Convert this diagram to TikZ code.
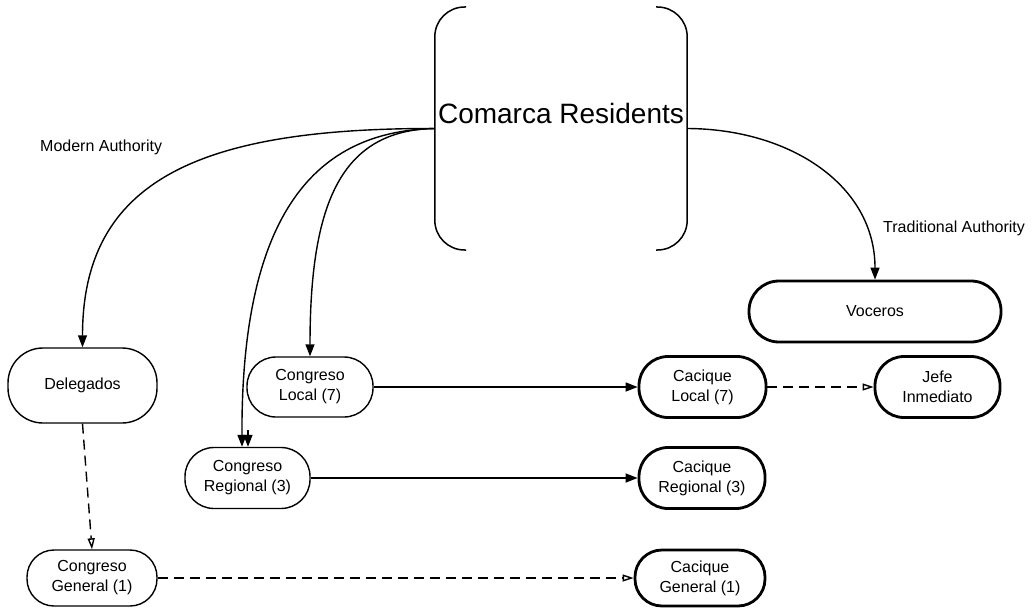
\documentclass[tikz,border=0pt]{standalone}
\usepackage{fontspec}
\setmainfont{Liberation Sans}
\usetikzlibrary{arrows.meta}
\begin{document}
\begin{tikzpicture}[x=1pt,y=-1pt,
  boxtext/.style={font=\fontsize{16}{20}\selectfont, align=center, inner sep=0pt},
  thinbox/.style={boxtext, draw, line width=1.4pt, rounded corners=29pt, minimum width=126pt, minimum height=60pt},
  thickbox/.style={boxtext, draw, line width=2.8pt, rounded corners=29pt, minimum width=126pt, minimum height=60pt},
  lbl/.style={font=\fontsize{16}{20}\selectfont, inner sep=0pt},
  conn/.style={line width=1.4pt, -{Triangle[length=12pt,width=9pt]}},
  dconn/.style={line width=1.4pt, dash pattern=on 10pt off 6pt, -{Triangle[open,length=11pt,width=7pt]}},
  bracket/.style={line width=1.5pt, rounded corners=30pt}
]
\useasboundingbox (0,0) rectangle (1032,607);
% central element
\node[font=\fontsize{28}{30}\selectfont, inner sep=0pt, text height=20pt, text depth=31pt,
      minimum width=252pt, minimum height=243pt] (comarca) at (561,128.5) {Comarca Residents};
\draw[bracket] (466,7) -- (comarca.north west) -- (comarca.south west) -- (466,250);
\draw[bracket] (656,7) -- (comarca.north east) -- (comarca.south east) -- (656,250);
% labels
\node[lbl, anchor=base west] (modern) at (40,151) {Modern Authority};
\node[lbl, anchor=base west] (trad) at (883,232) {Traditional Authority};
% boxes
\node[thinbox, minimum width=149pt, minimum height=75pt, rounded corners=35pt] (deleg) at (82.5,385.5) {Delegados};
\node[thinbox] (cloc) at (310,387) {Congreso\\Local (7)};
\node[thinbox, minimum width=125pt, minimum height=61pt] (creg) at (247.5,478) {Congreso\\Regional (3)};
\node[thinbox, minimum width=130pt, minimum height=56pt, rounded corners=27pt] (cgen) at (92,578) {Congreso\\General (1)};
\node[thickbox, minimum width=252pt, minimum height=61pt, rounded corners=30pt] (voc) at (875,311.5) {Voceros};
\node[thickbox, minimum width=127pt, minimum height=61pt] (cacloc) at (702.5,387) {Cacique\\Local (7)};
\node[thickbox, minimum width=125pt, minimum height=61pt] (jefe) at (937.5,387) {Jefe\\Inmediato};
\node[thickbox, minimum width=126pt, minimum height=61pt] (cacreg) at (702,478) {Cacique\\Regional (3)};
\node[thickbox, minimum width=130pt, minimum height=56pt, rounded corners=27pt] (cacgen) at (700,578) {Cacique\\General (1)};
% curved connectors from Comarca Residents
\draw[conn] (comarca.west) .. controls (200,128) and (82.5,180) .. (deleg.north);
\draw[conn] (comarca.west) .. controls (340,130) and (310,205) .. (cloc.north);
\draw[conn] (comarca.west) .. controls (325,131) and (241,200) .. ([xshift=-5.5pt]creg.north);
\coordinate (stub) at (248,430);
\draw[conn] (stub) -- ([xshift=0.5pt]creg.north);
\draw[conn] (comarca.east) .. controls (790,129) and (875,185) .. (voc.north);
% straight connectors
\draw[conn] (cloc.east) -- (cacloc.west);
\draw[conn] (creg.east) -- (cacreg.west);
\draw[dconn] (deleg.south) -- (cgen.north);
\draw[dconn] (cgen.east) -- (cacgen.west);
\draw[dconn] (cacloc.east) -- (jefe.west);
\end{tikzpicture}
\end{document}
